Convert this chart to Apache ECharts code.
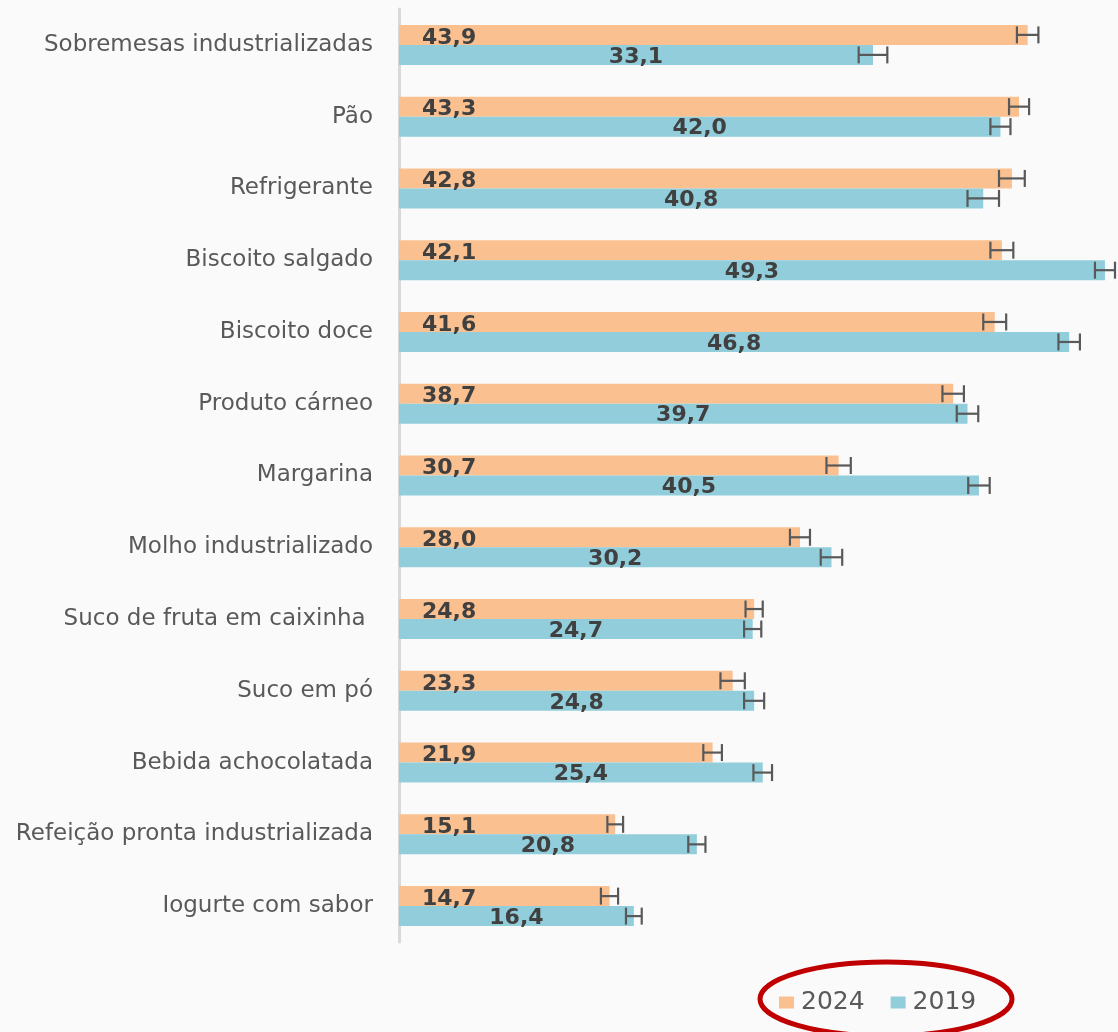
<!DOCTYPE html>
<html>
<head>
<meta charset="utf-8">
<script src="https://cdn.jsdelivr.net/npm/echarts@6/dist/echarts.min.js"></script>
<style>
html,body{margin:0;padding:0;background:#FAFAFA;}
#main{width:1118px;height:1032px;}
</style>
</head>
<body>
<div id="main"></div>
<script>
var categories = ["Sobremesas industrializadas","Pão","Refrigerante","Biscoito salgado","Biscoito doce","Produto cárneo","Margarina","Molho industrializado","Suco de fruta em caixinha ","Suco em pó","Bebida achocolatada","Refeição pronta industrializada","Iogurte com sabor"];
var values2024 = [43.9,43.3,42.8,42.1,41.6,38.7,30.7,28.0,24.8,23.3,21.9,15.1,14.7];
var values2019 = [33.1,42.0,40.8,49.3,46.8,39.7,40.5,30.2,24.7,24.8,25.4,20.8,16.4];
var err2024 = [0.75,0.7,0.9,0.8,0.8,0.75,0.85,0.7,0.6,0.85,0.65,0.55,0.6];
var err2019 = [1.0,0.7,1.1,0.7,0.75,0.75,0.75,0.75,0.6,0.7,0.65,0.6,0.55];

var C24 = '#FAC090', C19 = '#92CDDC';
var FONT = 'DejaVu Sans, Liberation Sans, Arial, sans-serif';
var chart = echarts.init(document.getElementById('main'));
function fmt(p){ return p.value.toFixed(1).replace('.', ','); }
function errData(vals, errs){
  return vals.map(function(v,i){ return [i, v - errs[i], v + errs[i]]; });
}
function errRender(off){
  return function(params, api){
    var idx = api.value(0);
    var lo = api.coord([api.value(1), idx]);
    var hi = api.coord([api.value(2), idx]);
    var y = lo[1] + off;
    var h = 8.5;
    var st = {stroke:'#595959', lineWidth:2.2};
    return {type:'group', children:[
      {type:'line', shape:{x1:lo[0],y1:y,x2:hi[0],y2:y}, style:st},
      {type:'line', shape:{x1:lo[0],y1:y-h,x2:lo[0],y2:y+h}, style:st},
      {type:'line', shape:{x1:hi[0],y1:y-h,x2:hi[0],y2:y+h}, style:st}
    ]};
  };
}
var labelFont = {fontFamily:FONT, fontSize:22, fontWeight:'bold', color:'#404040'};
chart.setOption({
  backgroundColor:'#FAFAFA',
  animation:false,
  grid:{left:399, right:3, top:9, bottom:90},
  legend:{
    data:['2024','2019'], left:774, top:985, icon:'rect', itemWidth:15, itemHeight:12, itemGap:26,
    textStyle:{fontFamily:FONT, fontSize:25, color:'#595959', padding:[0,0,0,2]}
  },
  xAxis:{type:'value', min:0, max:50, show:false, splitLine:{show:false}},
  yAxis:{
    type:'category', data:categories, inverse:true,
    axisLine:{show:true, lineStyle:{color:'#D9D9D9', width:3}},
    axisTick:{show:false},
    axisLabel:{margin:26, fontFamily:FONT, fontSize:23, color:'#595959'}
  },
  series:[
    {name:'2024', type:'bar', data:values2024, barWidth:20, barGap:'0%', itemStyle:{color:C24},
      label:{show:true, position:'insideLeft', distance:23, offset:[0,3], formatter:fmt, textStyle:labelFont}},
    {name:'2019', type:'bar', data:values2019, barWidth:20, barGap:'0%', itemStyle:{color:C19},
      label:{show:true, position:'inside', offset:[0,2], formatter:fmt, textStyle:labelFont}},
    {type:'custom', data:errData(values2024, err2024), renderItem:errRender(-10), encode:{y:0,x:[1,2]}, z:5, silent:true},
    {type:'custom', data:errData(values2019, err2019), renderItem:errRender(10), encode:{y:0,x:[1,2]}, z:5, silent:true}
  ],
  graphic:[{type:'ellipse', shape:{cx:886, cy:999, rx:126, ry:37}, style:{fill:null, stroke:'#C00000', lineWidth:5}, z:10}]
});
</script>
</body>
</html>
